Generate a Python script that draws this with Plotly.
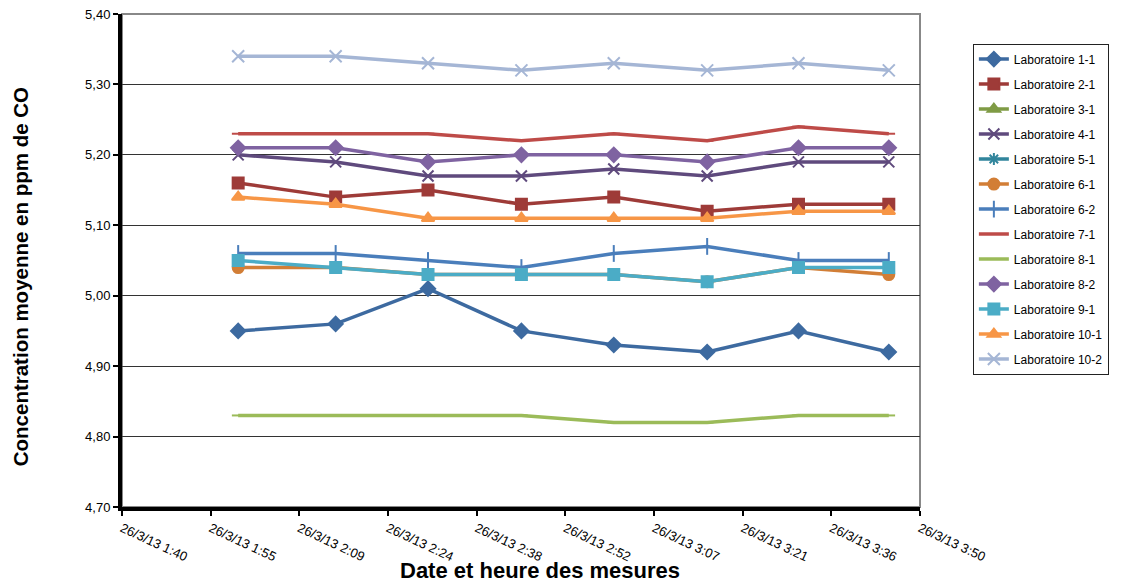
import plotly.graph_objects as go
from datetime import datetime, timedelta

times = ["2013-03-26 01:59:40", "2013-03-26 02:15:30", "2013-03-26 02:30:30", "2013-03-26 02:45:40",
         "2013-03-26 03:00:40", "2013-03-26 03:15:50", "2013-03-26 03:30:40", "2013-03-26 03:45:20"]

labs = ["Laboratoire 1-1", "Laboratoire 2-1", "Laboratoire 3-1", "Laboratoire 4-1", "Laboratoire 5-1",
        "Laboratoire 6-1", "Laboratoire 6-2", "Laboratoire 7-1", "Laboratoire 8-1", "Laboratoire 8-2",
        "Laboratoire 9-1", "Laboratoire 10-1", "Laboratoire 10-2"]

lab_1_1 = [4.95, 4.96, 5.01, 4.95, 4.93, 4.92, 4.95, 4.92]
lab_2_1 = [5.16, 5.14, 5.15, 5.13, 5.14, 5.12, 5.13, 5.13]
lab_3_1 = [None] * 8
lab_4_1 = [5.20, 5.19, 5.17, 5.17, 5.18, 5.17, 5.19, 5.19]
lab_5_1 = [None] * 8
lab_6_1 = [5.04, 5.04, 5.03, 5.03, 5.03, 5.02, 5.04, 5.03]
lab_6_2 = [5.06, 5.06, 5.05, 5.04, 5.06, 5.07, 5.05, 5.05]
lab_7_1 = [5.23, 5.23, 5.23, 5.22, 5.23, 5.22, 5.24, 5.23]
lab_8_1 = [4.83, 4.83, 4.83, 4.83, 4.82, 4.82, 4.83, 4.83]
lab_8_2 = [5.21, 5.21, 5.19, 5.20, 5.20, 5.19, 5.21, 5.21]
lab_9_1 = [5.05, 5.04, 5.03, 5.03, 5.03, 5.02, 5.04, 5.04]
lab_10_1 = [5.14, 5.13, 5.11, 5.11, 5.11, 5.11, 5.12, 5.12]
lab_10_2 = [5.34, 5.34, 5.33, 5.32, 5.33, 5.32, 5.33, 5.32]

series = [lab_1_1, lab_2_1, lab_3_1, lab_4_1, lab_5_1, lab_6_1, lab_6_2, lab_7_1, lab_8_1,
          lab_8_2, lab_9_1, lab_10_1, lab_10_2]

colors = ["#3D6AA0", "#9E3B38", "#7F9B45", "#5F4A7D", "#31859C", "#D27E36", "#4A7EBB",
          "#BE4B48", "#9BBB59", "#7F63A1", "#4BACC6", "#F79646", "#A5B6D5"]
symbols = ["diamond", "square", "triangle-up", "x-thin-open", "asterisk-open", "circle", "line-ns-open",
           "line-ew-open", "line-ew-open", "diamond", "square", "triangle-up", "x-thin-open"]
sizes = [11, 11, 11, 11, 10, 11, 12, 9, 9, 11, 11, 11, 12]

tick_labels = ["26/3/13 1:40", "26/3/13 1:55", "26/3/13 2:09", "26/3/13 2:24", "26/3/13 2:38",
               "26/3/13 2:52", "26/3/13 3:07", "26/3/13 3:21", "26/3/13 3:36", "26/3/13 3:50"]

x_start = datetime(2013, 3, 26, 1, 40, 48)
step = timedelta(minutes=14.4)
tick_vals = [x_start + i * step for i in range(len(tick_labels))]
x_end = tick_vals[-1]

fig = go.Figure()
for name, vals, c, s, sz in zip(labs, series, colors, symbols, sizes):
    fig.add_trace(go.Scatter(
        x=times, y=vals, name=name, mode="lines+markers", legendgroup=name,
        line=dict(color=c, width=3.5),
        marker=dict(symbol=s, size=sz, color=c, line=dict(color=c, width=2)),
    ))

fig.update_layout(
    width=1121, height=584,
    margin=dict(l=122, r=199, t=14, b=77),
    paper_bgcolor="white", plot_bgcolor="white",
    font=dict(family="Liberation Sans, Arial, sans-serif", color="black"),
    separators=",.",
    showlegend=True,
    legend=dict(
        x=(975 - 122) / 800, y=0.94, xanchor="left", yanchor="top",
        bordercolor="#222", borderwidth=1, bgcolor="white",
        font=dict(size=12, family="Liberation Sans, Arial, sans-serif"),
        traceorder="grouped", tracegroupgap=6, itemwidth=30,
    ),
    xaxis=dict(
        type="date", range=[x_start, x_end], automargin=False,
        tickvals=tick_vals, ticktext=tick_labels, tickangle=25,
        showgrid=False, zeroline=False,
        showline=True, linecolor="black", linewidth=4,
        ticks="outside", ticklen=5, tickwidth=2, tickcolor="black",
        tickfont=dict(size=13),
    ),
    yaxis=dict(
        range=[4.70, 5.40], dtick=0.1, tick0=4.7, tickformat=".2f", automargin=False,
        showgrid=True, gridcolor="#333", gridwidth=1, zeroline=False,
        showline=True, linecolor="black", linewidth=4,
        ticks="outside", ticklen=5, tickwidth=2, tickcolor="black",
        tickfont=dict(size=13),
    ),
    shapes=[dict(type="rect", xref="paper", yref="paper", x0=0, x1=1, y0=0, y1=1,
                 line=dict(color="#888", width=2), layer="below")],
    annotations=[
        dict(text="<b>Date et heure des mesures</b>", xref="paper", yref="paper",
             x=(541 - 122) / 800, y=-(570 - 507) / 493, xanchor="center", yanchor="middle",
             showarrow=False, font=dict(size=22)),
        dict(text="<b>Concentration moyenne en ppm de CO</b>", xref="paper", yref="paper",
             x=-(122 - 20) / 800, y=(507 - 277) / 493, xanchor="center", yanchor="middle",
             textangle=-90, showarrow=False, font=dict(size=20.5)),
    ],
)

fig.write_html("out.html", config={"displayModeBar": False},
               post_script="document.body.style.margin='0';")
